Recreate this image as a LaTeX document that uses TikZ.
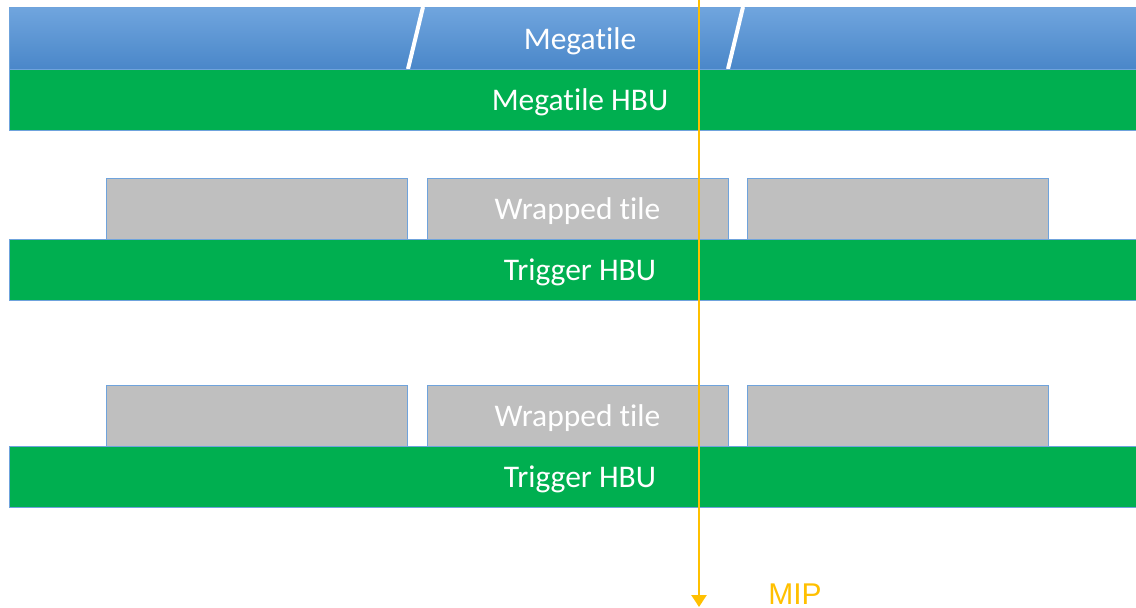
\documentclass[tikz,border=0pt]{standalone}
\usepackage{fontspec}
\setmainfont{Carlito}[RawFeature=-liga]
\newfontfamily\arialfont{Liberation Sans}
\usetikzlibrary{arrows.meta}
\definecolor{hbugreen}{HTML}{00AF50}
\definecolor{edgeblue}{HTML}{6FA3DC}
\definecolor{tilegray}{HTML}{BFBFBF}
\definecolor{miporange}{HTML}{FFC000}
\definecolor{megatop}{HTML}{70A5DE}
\definecolor{megabot}{HTML}{4A87C9}
\begin{document}
\begin{tikzpicture}[x=1pt,y=-1pt,
  labeltext/.style={text=white,font=\fontsize{31.5}{36}\selectfont,text height=26pt,text depth=3.6pt},
  band/.style={labeltext,draw=edgeblue,line width=1pt,fill=hbugreen,minimum width=1142pt,minimum height=61pt,inner sep=0pt},
  megaband/.style={labeltext,draw=edgeblue,line width=1pt,top color=megatop,bottom color=megabot,minimum width=1142pt,minimum height=62pt,inner sep=0pt},
  tilebox/.style={labeltext,draw=edgeblue,line width=1pt,fill=tilegray,minimum width=301pt,minimum height=61pt,inner sep=0pt},
  slash/.style={draw=white,line width=4pt},
  mip/.style={draw=miporange,line width=2.6pt,-{Triangle[width=15pt,length=12pt]}}
]
\useasboundingbox (0,0) rectangle (1136,608);
% megatile
\node[megaband] (mega) at (580,38) {Megatile};
\draw[slash] (408,69) -- (423,7);
\draw[slash] (728,69) -- (743,7);
\node[band] (megahbu) at (580,99.5) {Megatile HBU};
% first layer
\node[tilebox] (t1a) at (257,208.5) {};
\node[tilebox] (t1b) at (577.5,208.5) {Wrapped tile};
\node[tilebox] (t1c) at (897.5,208.5) {};
\node[band] (trig1) at (580,269.5) {Trigger HBU};
% second layer
\node[tilebox] (t2a) at (257,415.5) {};
\node[tilebox] (t2b) at (577.5,415.5) {Wrapped tile};
\node[tilebox] (t2c) at (897.5,415.5) {};
\node[band] (trig2) at (580,476.5) {Trigger HBU};
% MIP
\coordinate (mipstart) at (699,-2);
\coordinate (mipend) at (699,607);
\draw[mip] (mipstart) -- (mipend);
\node[text=miporange,font=\arialfont\fontsize{30}{34}\selectfont,inner sep=0pt] (miplabel) at (795,594.5) {MIP};
\end{tikzpicture}
\end{document}
